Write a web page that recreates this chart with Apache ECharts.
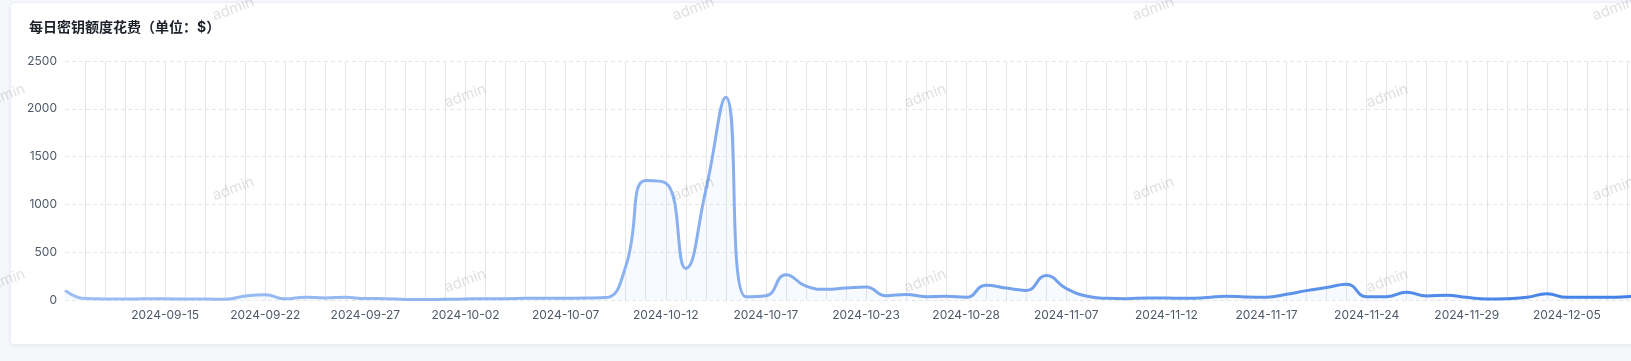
<!DOCTYPE html>
<html>
<head>
<meta charset="utf-8">
<script src="https://cdn.jsdelivr.net/npm/echarts@6/dist/echarts.min.js"></script>
<style>
  html, body { margin: 0; padding: 0; width: 1631px; height: 361px; overflow: hidden; background: #f5f7fa; }
  #card { position: absolute; left: 10px; top: 2px; width: 1720px; height: 343px; box-sizing: border-box;
          background: #fff; border: 1px solid #ebeef5; border-radius: 4px; box-shadow: 0 1px 4px rgba(0,0,0,0.05); }
  #chart { position: absolute; left: 0; top: 0; width: 1718px; height: 341px; }
  .wm { position: absolute; font-family: Inter, "Noto Sans", sans-serif; font-size: 15px; color: rgba(0,0,0,0.13);
        transform: translate(-50%, -50%) rotate(-20deg); pointer-events: none; white-space: nowrap; }
</style>
</head>
<body>
<div id="card"><div id="chart"></div></div>
<div id="wms"></div>
<script>
const titleText = '每日密钥额度花费（单位：$）';
const categories = [
  '2024-09-10','2024-09-11','2024-09-12','2024-09-13','2024-09-14','2024-09-15',
  '2024-09-16','2024-09-17','2024-09-19','2024-09-20','2024-09-22',
  '2024-09-23','2024-09-24','2024-09-25','2024-09-26','2024-09-27',
  '2024-09-28','2024-09-29','2024-09-30','2024-10-01','2024-10-02',
  '2024-10-03','2024-10-04','2024-10-05','2024-10-06','2024-10-07',
  '2024-10-08','2024-10-09','2024-10-10','2024-10-11','2024-10-12',
  '2024-10-13','2024-10-14','2024-10-15','2024-10-16','2024-10-17',
  '2024-10-18','2024-10-19','2024-10-20','2024-10-22','2024-10-23',
  '2024-10-24','2024-10-25','2024-10-26','2024-10-27','2024-10-28',
  '2024-10-30','2024-11-01','2024-11-03','2024-11-05','2024-11-07',
  '2024-11-08','2024-11-09','2024-11-10','2024-11-11','2024-11-12',
  '2024-11-13','2024-11-14','2024-11-15','2024-11-16','2024-11-17',
  '2024-11-18','2024-11-19','2024-11-20','2024-11-22','2024-11-24',
  '2024-11-25','2024-11-26','2024-11-27','2024-11-28','2024-11-29',
  '2024-11-30','2024-12-01','2024-12-02','2024-12-04','2024-12-05',
  '2024-12-06','2024-12-07','2024-12-08','2024-12-09'
];
const spend = [
  100, 15, 10, 10, 12, 12,
  10, 10, 8, 42, 55,
  12, 30, 22, 28, 15,
  14, 6, 5, 7, 10,
  14, 14, 17, 17, 18,
  20, 25, 350, 1250, 1225,
  330, 1150, 2120, 35, 45,
  265, 145, 112, 125, 135,
  45, 58, 35, 38, 28,
  155, 125, 100, 255, 120,
  42, 18, 14, 22, 20,
  17, 25, 40, 32, 30,
  60, 98, 130, 165, 35,
  35, 80, 42, 50, 28,
  10, 14, 28, 65, 28,
  28, 28, 35, 55
];
const yTicks = [0, 500, 1000, 1500, 2000, 2500];

// watermark positions (page layout)
const wmRowsA = [8, 188], wmColsA = [233, 693, 1153, 1613];
const wmRowsB = [95, 280], wmColsB = [4, 465, 925, 1387];
const wmBox = document.getElementById('wms');
function addWm(x, y) {
  const d = document.createElement('div');
  d.className = 'wm'; d.textContent = 'admin';
  d.style.left = x + 'px'; d.style.top = y + 'px';
  wmBox.appendChild(d);
}
wmRowsA.forEach(y => wmColsA.forEach(x => addWm(x, y)));
wmRowsB.forEach(y => wmColsB.forEach(x => addWm(x, y)));

const chart = echarts.init(document.getElementById('chart'), null, { renderer: 'canvas' });
const font = 'Inter, "Noto Sans CJK SC", "Noto Sans", sans-serif';
chart.setOption({
  animation: false,
  title: {
    text: titleText, left: 13, top: 13,
    textStyle: { fontSize: 14, fontWeight: 'bold', color: '#1d2129', fontFamily: font }
  },
  grid: { left: 54, right: 82, top: 58, bottom: 44, containLabel: false },
  xAxis: {
    type: 'category', data: categories, boundaryGap: false,
    axisLine: { show: false }, axisTick: { show: false },
    axisLabel: {
      interval: function (i) { return i > 0 && i % 5 === 0; },
      color: '#4e5969', fontSize: 12, fontFamily: font, margin: 9
    },
    splitLine: { show: true, showMinLine: false, interval: 0, lineStyle: { color: '#e5e6eb', width: 1, type: 'solid' } }
  },
  yAxis: {
    type: 'value', min: yTicks[0], max: yTicks[yTicks.length - 1], interval: 500,
    axisLine: { show: false }, axisTick: { show: false },
    axisLabel: { color: '#4e5969', fontSize: 12, fontFamily: font, margin: 8, formatter: function (v) { return String(v); } },
    splitLine: { lineStyle: { color: '#e5e6eb', type: [4, 3] } }
  },
  series: [{
    type: 'line', data: spend, smooth: true, showSymbol: false,
    lineStyle: {
      width: 3,
      color: new echarts.graphic.LinearGradient(0, 0, 1, 0, [
        { offset: 0, color: '#9cbff3' },
        { offset: 0.45, color: '#86aef0' },
        { offset: 1, color: '#3f7fe6' }
      ])
    },
    areaStyle: { color: 'rgba(80,135,230,0.06)' }
  }]
});
</script>
</body>
</html>
